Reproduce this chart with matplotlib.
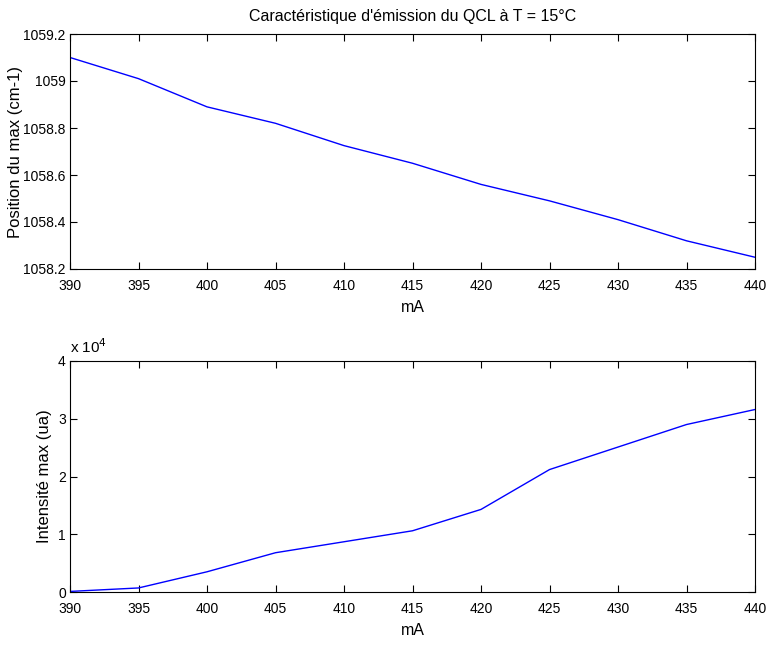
import numpy as np
import matplotlib.pyplot as plt
from matplotlib.ticker import FuncFormatter

plt.rcParams['font.family'] = ['Liberation Sans', 'DejaVu Sans']
plt.rcParams['font.size'] = 10

current = [390, 395, 400, 405, 410, 415, 420, 425, 430, 435, 440]
position = [1059.10, 1059.01, 1058.89, 1058.82, 1058.725, 1058.65,
            1058.56, 1058.49, 1058.41, 1058.32, 1058.25]
intensity = [100, 700, 3500, 6800, 8700, 10600, 14300, 21200, 25100, 29000, 31600]

fig = plt.figure(figsize=(7.72, 6.48), dpi=100)
ax1 = fig.add_axes([70/772, 1-269/648, 685/772, 235/648])
ax2 = fig.add_axes([70/772, 1-592/648, 685/772, 231/648])

ax1.plot(current, position, color='#0000ff', lw=1)
ax1.set_xlim(390, 440)
ax1.set_ylim(1058.2, 1059.2)
ax1.set_xticks(np.arange(390, 441, 5))
ax1.set_yticks([1058.2, 1058.4, 1058.6, 1058.8, 1059.0, 1059.2])
ax1.yaxis.set_major_formatter(FuncFormatter(lambda v, p: '%g' % round(v, 1)))
ax1.set_xlabel('mA', fontsize=11.5, labelpad=5)
ax1.set_ylabel('Position du max (cm-1)', fontsize=12)
ax1.yaxis.set_label_coords(-0.069, 0.5)
ax1.set_title("Caractéristique d'émission du QCL à T = 15°C", fontsize=11.5, pad=9)

ax2.plot(current, intensity, color='#0000ff', lw=1)
ax2.set_xlim(390, 440)
ax2.set_ylim(0, 40000)
ax2.set_xticks(np.arange(390, 441, 5))
ax2.set_yticks([0, 10000, 20000, 30000, 40000])
ax2.yaxis.set_major_formatter(FuncFormatter(lambda v, p: '%g' % (v / 1e4)))
ax2.set_xlabel('mA', fontsize=11.5, labelpad=5)
ax2.set_ylabel('Intensité max (ua)', fontsize=12)
ax2.yaxis.set_label_coords(-0.027, 0.5)
ax2.text(0.0, 1.02, r'x 10$^{4}$', transform=ax2.transAxes, ha='left', va='bottom', fontsize=11)

for ax in (ax1, ax2):
    ax.tick_params(axis='both', which='both', direction='in', top=True, right=True,
                   length=5, width=0.8)
    ax.tick_params(axis='y', pad=3)
    ax.tick_params(axis='x', pad=7)
    for s in ax.spines.values():
        s.set_linewidth(0.8)

fig.savefig('out.png', dpi=100)
